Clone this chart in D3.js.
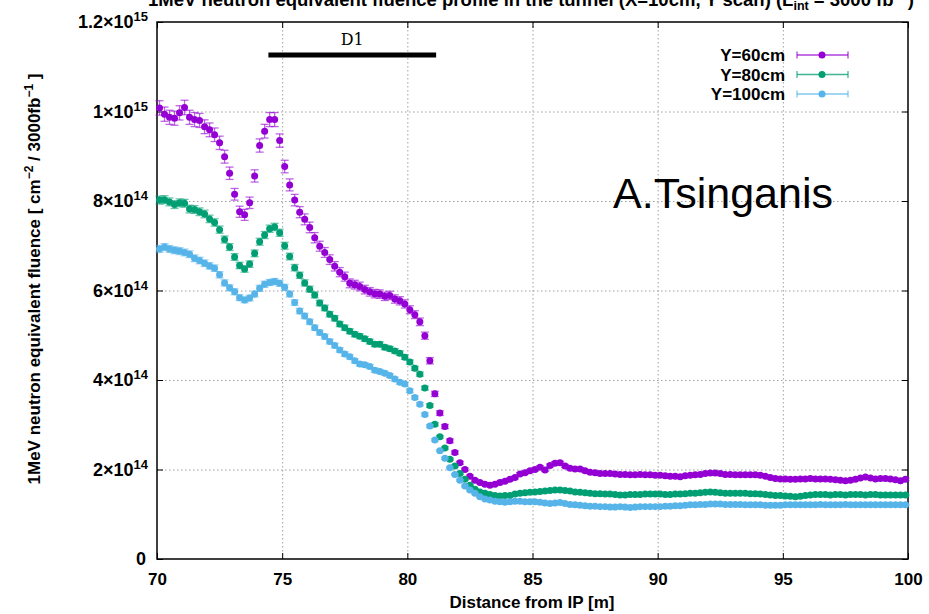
<!DOCTYPE html>
<html><head><meta charset="utf-8">
<script src="https://cdn.jsdelivr.net/npm/d3@7"></script>
<style>
html,body{margin:0;padding:0;background:#fff;}
svg{display:block;}
</style></head>
<body>
<script>
// ---- data (fluence in units of 1e14 cm^-2 / 3000 fb^-1), bins of 0.2 m from 70 to 100 m ----
const binStart = 70, binWidth = 0.2, nBins = 150;
const seriesNames = ["Y=60cm", "Y=80cm", "Y=100cm"];
const seriesColors = ["#9400D3", "#009E73", "#56B4E9"];
const relErrors = [0.016, 0.011, 0.011];

const y60 = [10.08,9.94,9.87,9.85,9.97,10.09,9.87,9.82,9.80,9.66,9.59,9.48,9.30,8.99,8.62,8.15,7.76,7.69,7.96,8.56,
9.24,9.56,9.82,9.82,9.35,8.77,8.36,8.02,7.75,7.59,7.41,7.18,6.99,6.85,6.69,6.54,6.41,6.31,6.16,6.13,
6.09,6.02,5.97,5.93,5.92,5.87,5.89,5.81,5.77,5.70,5.57,5.46,5.30,4.99,4.43,3.69,3.26,2.96,2.64,2.38,
2.15,2.00,1.85,1.76,1.71,1.67,1.65,1.67,1.71,1.74,1.78,1.82,1.90,1.93,1.97,2.00,2.05,1.99,2.09,2.14,
2.15,2.08,2.03,2.01,2.01,1.97,1.94,1.93,1.91,1.91,1.91,1.90,1.89,1.89,1.88,1.88,1.89,1.88,1.88,1.87,
1.87,1.86,1.85,1.85,1.84,1.86,1.87,1.88,1.89,1.91,1.92,1.92,1.91,1.89,1.89,1.88,1.88,1.88,1.88,1.88,
1.87,1.85,1.82,1.80,1.79,1.79,1.78,1.78,1.79,1.79,1.80,1.79,1.79,1.79,1.78,1.77,1.76,1.75,1.76,1.78,
1.81,1.83,1.81,1.79,1.80,1.80,1.79,1.77,1.75,1.78];

const y80 = [8.02,8.03,7.98,7.92,7.96,7.95,7.82,7.81,7.76,7.71,7.60,7.52,7.36,7.14,6.97,6.75,6.56,6.48,6.59,6.83,
7.09,7.24,7.38,7.42,7.29,7.00,6.76,6.51,6.34,6.17,6.03,5.90,5.72,5.61,5.47,5.38,5.25,5.17,5.09,5.02,
4.98,4.92,4.86,4.80,4.80,4.73,4.70,4.65,4.60,4.51,4.40,4.26,4.13,3.82,3.43,3.01,2.73,2.48,2.23,2.08,
1.91,1.78,1.65,1.56,1.50,1.47,1.44,1.42,1.41,1.42,1.42,1.45,1.47,1.48,1.49,1.50,1.51,1.52,1.53,1.54,
1.54,1.53,1.52,1.50,1.49,1.48,1.47,1.46,1.46,1.45,1.45,1.44,1.43,1.43,1.44,1.44,1.44,1.45,1.45,1.45,
1.45,1.44,1.44,1.45,1.45,1.46,1.47,1.47,1.48,1.49,1.50,1.49,1.48,1.47,1.47,1.47,1.47,1.47,1.46,1.46,
1.45,1.44,1.43,1.42,1.42,1.41,1.40,1.39,1.40,1.42,1.43,1.44,1.44,1.44,1.43,1.44,1.44,1.43,1.44,1.44,
1.44,1.43,1.44,1.44,1.43,1.43,1.43,1.43,1.43,1.43];

const y100 = [6.93,6.97,6.93,6.90,6.88,6.85,6.81,6.72,6.67,6.61,6.55,6.50,6.35,6.17,6.06,5.97,5.84,5.79,5.83,5.92,
6.05,6.14,6.18,6.20,6.16,6.07,5.92,5.73,5.54,5.43,5.30,5.17,5.06,4.97,4.86,4.77,4.67,4.58,4.52,4.43,
4.36,4.34,4.30,4.22,4.19,4.15,4.10,4.02,3.95,3.91,3.76,3.61,3.46,3.23,2.97,2.66,2.42,2.25,2.04,1.89,
1.76,1.63,1.54,1.47,1.39,1.34,1.32,1.29,1.28,1.27,1.28,1.29,1.29,1.28,1.28,1.28,1.27,1.25,1.24,1.25,
1.26,1.24,1.22,1.21,1.20,1.19,1.18,1.18,1.17,1.17,1.16,1.16,1.17,1.16,1.15,1.16,1.17,1.17,1.17,1.17,
1.17,1.18,1.18,1.19,1.19,1.20,1.21,1.21,1.22,1.22,1.23,1.23,1.23,1.22,1.22,1.22,1.22,1.21,1.21,1.21,
1.21,1.20,1.20,1.20,1.20,1.21,1.21,1.21,1.21,1.21,1.21,1.21,1.22,1.21,1.21,1.21,1.21,1.22,1.21,1.21,
1.21,1.21,1.21,1.21,1.21,1.21,1.21,1.21,1.21,1.21];

const seriesValues = [y60, y80, y100];

const xTicks = [70, 75, 80, 85, 90, 95, 100];
const yTicks = [0, 2, 4, 6, 8, 10, 12];
const yTickMantissa = ["0", "2", "4", "6", "8", "1", "1.2"];
const yTickExponent = ["", "14", "14", "14", "14", "15", "15"];

const magnetLabel = "D1";
const magnetRange = [74.45, 81.15];
const magnetLevel = 11.26;

// ---- layout ----
const W = 929, H = 614;
const M = {left: 157, right: 908, top: 22, bottom: 559};
const SANS = "'Liberation Sans', Arial, Helvetica, sans-serif";
const FS = 17, SUP = 12;

const svg = d3.select("body").append("svg").attr("width", W).attr("height", H)
  .style("font-family", SANS);

const x = d3.scaleLinear().domain([70, 100]).range([M.left, M.right]);
const y = d3.scaleLinear().domain([0, 12]).range([M.bottom, M.top]);

// title (clipped at top in the original)
const title = svg.append("text").attr("x", 148).attr("y", 6)
  .attr("font-size", 18.5).attr("font-weight", "bold");
title.append("tspan").text("1MeV neutron equivalent fluence profile in the tunnel (X=10cm, Y scan) (L");
title.append("tspan").attr("font-size", 12.5).attr("dy", 4).text("int");
title.append("tspan").attr("dy", -4).text(" = 3000 fb");
title.append("tspan").attr("font-size", 12.5).attr("dy", -7).text("−1");
title.append("tspan").attr("dy", 7).text(")");

// grid
const grid = svg.append("g").attr("stroke", "#a0a0a0").attr("stroke-width", 1).attr("stroke-dasharray", "1.5,2.5");
grid.selectAll(".gx").data(xTicks.slice(1, -1)).join("line")
  .attr("x1", d => x(d) + 0.5).attr("x2", d => x(d) + 0.5).attr("y1", M.top).attr("y2", M.bottom);
grid.selectAll(".gy").data(yTicks.slice(1, -1)).join("line")
  .attr("y1", d => y(d) + 0.5).attr("y2", d => y(d) + 0.5).attr("x1", M.left).attr("x2", M.right);

// axes using d3 axis generators (inward ticks on all sides, labels custom)
const tickLen = 6;
const axB = svg.append("g").attr("transform", `translate(0,${M.bottom})`)
  .call(d3.axisBottom(x).tickValues(xTicks).tickSizeInner(-tickLen).tickSizeOuter(0).tickPadding(14).tickFormat(d3.format("d")));
const axT = svg.append("g").attr("transform", `translate(0,${M.top})`)
  .call(d3.axisTop(x).tickValues(xTicks).tickSizeInner(-tickLen).tickSizeOuter(0).tickFormat(""));
const axL = svg.append("g").attr("transform", `translate(${M.left},0)`)
  .call(d3.axisLeft(y).tickValues(yTicks).tickSizeInner(-tickLen).tickSizeOuter(0).tickFormat(""));
const axR = svg.append("g").attr("transform", `translate(${M.right},0)`)
  .call(d3.axisRight(y).tickValues(yTicks).tickSizeInner(-tickLen).tickSizeOuter(0).tickFormat(""));
[axB, axT, axL, axR].forEach(a => {
  a.select(".domain").remove();
  a.selectAll(".tick line").attr("stroke", "#000").attr("stroke-width", 1);
});
axB.selectAll(".tick text").style("font-size", FS + "px").style("font-weight", "bold")
  .style("font-family", SANS).attr("fill", "#000");

// y tick labels with superscripts
const yl = svg.append("g");
yTicks.forEach((v, i) => {
  const t = yl.append("text").attr("text-anchor", "end")
    .attr("x", yTickExponent[i] ? 148 : 146).attr("y", y(v) + 6)
    .attr("font-size", 18).attr("font-weight", "bold");
  if (yTickExponent[i]) {
    t.append("tspan").text(yTickMantissa[i] + "×10");
    t.append("tspan").attr("font-size", 13).attr("dy", -7).text(yTickExponent[i]);
  } else {
    t.text(yTickMantissa[i]);
  }
});

// frame
svg.append("rect").attr("x", M.left).attr("y", M.top)
  .attr("width", M.right - M.left).attr("height", M.bottom - M.top)
  .attr("fill", "none").attr("stroke", "#000").attr("stroke-width", 1.5);

// axis titles
svg.append("text").attr("x", 532).attr("y", 608)
  .attr("text-anchor", "middle").attr("font-size", FS).attr("font-weight", "bold")
  .text("Distance from IP [m]");
const yt = svg.append("text").attr("transform", "translate(40,279) rotate(-90)")
  .attr("text-anchor", "middle").attr("font-size", FS).attr("font-weight", "bold");
yt.append("tspan").text("1MeV neutron equivalent fluence [ cm");
yt.append("tspan").attr("font-size", SUP).attr("dy", -7).text("−2");
yt.append("tspan").attr("dy", 7).text(" / 3000fb");
yt.append("tspan").attr("font-size", SUP).attr("dy", -7).text("−1");
yt.append("tspan").attr("dy", 7).text(" ]");

// D1 magnet bar
svg.append("line").attr("x1", x(magnetRange[0])).attr("x2", x(magnetRange[1]))
  .attr("y1", y(magnetLevel)).attr("y2", y(magnetLevel))
  .attr("stroke", "#000").attr("stroke-width", 5);
svg.append("text").attr("x", x((magnetRange[0] + magnetRange[1]) / 2)).attr("y", 45)
  .attr("text-anchor", "middle").attr("font-size", 16)
  .style("font-family", "'DejaVu Serif', 'Liberation Serif', serif").text(magnetLabel);

// author label
svg.append("text").attr("x", 723).attr("y", 208).attr("text-anchor", "middle")
  .attr("font-size", 43).text("A.Tsinganis");

// data
const xs = d3.range(nBins).map(i => binStart + binWidth * (i + 0.5));
const capHalf = 4;
seriesValues.forEach((vals, s) => {
  const g = svg.append("g");
  const pts = vals.map((v, i) => ({x: xs[i], v, e: v * relErrors[s]}));
  const eb = g.append("g").attr("stroke", seriesColors[s]).attr("stroke-opacity", 0.6).attr("stroke-width", 1.3);
  pts.forEach(p => {
    const cx = x(p.x), y1 = y(p.v + p.e), y2 = y(p.v - p.e);
    eb.append("line").attr("x1", cx).attr("x2", cx).attr("y1", y1).attr("y2", y2);
    eb.append("line").attr("x1", cx - capHalf).attr("x2", cx + capHalf).attr("y1", y1).attr("y2", y1);
    eb.append("line").attr("x1", cx - capHalf).attr("x2", cx + capHalf).attr("y1", y2).attr("y2", y2);
  });
  g.selectAll("circle").data(pts).join("circle")
    .attr("cx", d => x(d.x)).attr("cy", d => y(d.v)).attr("r", 3.5)
    .attr("fill", seriesColors[s]);
});

// legend
const lg = svg.append("g");
seriesNames.forEach((name, s) => {
  const ly = 55 + s * 19.5;
  lg.append("text").attr("x", 785).attr("y", ly + 6).attr("text-anchor", "end")
    .attr("font-size", FS).attr("font-weight", "bold").text(name);
  const le = lg.append("g").attr("stroke", seriesColors[s]).attr("stroke-opacity", 0.75).attr("stroke-width", 1.3);
  le.append("line").attr("x1", 797).attr("x2", 848).attr("y1", ly).attr("y2", ly);
  le.append("line").attr("x1", 797).attr("x2", 797).attr("y1", ly - 3.5).attr("y2", ly + 3.5);
  le.append("line").attr("x1", 848).attr("x2", 848).attr("y1", ly - 3.5).attr("y2", ly + 3.5);
  lg.append("circle").attr("cx", 822).attr("cy", ly).attr("r", 3.5).attr("fill", seriesColors[s]);
});
</script>
</body></html>
